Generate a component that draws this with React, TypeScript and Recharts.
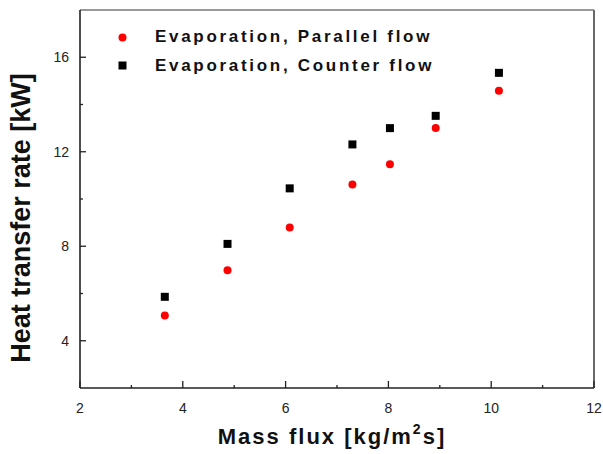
import React from 'react';
import { ScatterChart, Scatter, XAxis, YAxis, ReferenceLine, Legend, Label } from 'recharts';

// values
const massFlux = [3.65, 4.87, 6.08, 7.3, 8.03, 8.92, 10.15];
const parallelFlow = [5.07, 6.98, 8.79, 10.61, 11.47, 13.01, 14.58];
const counterFlow = [5.86, 8.1, 10.45, 12.31, 13.0, 13.52, 15.34];

const xTicks = [2, 3, 4, 5, 6, 7, 8, 9, 10, 11, 12];
const yTicks = [4, 6, 8, 10, 12, 14, 16];

const parallelData = massFlux.map((x, i) => ({ x, y: parallelFlow[i] }));
const counterData = massFlux.map((x, i) => ({ x, y: counterFlow[i] }));

const FONT = '"Liberation Sans", Arial, sans-serif';
const AXIS = '#222';

const RedDot = (p: any) => <circle cx={p.cx} cy={p.cy} r={4} fill="#ff0000" />;
const BlackSquare = (p: any) => (
  <rect x={p.cx - 4} y={p.cy - 4} width={8} height={8} fill="#000" />
);

const XTick = ({ x, y, payload }: any) => {
  const major = payload.value % 2 === 0;
  return (
    <g>
      <line x1={x} x2={x} y1={y} y2={y - (major ? 7 : 3)} stroke={AXIS} strokeWidth={1.3} />
      {major && (
        <text x={x} y={y + 25} textAnchor="middle" fontSize={14} fontFamily={FONT} fill="#222">
          {payload.value}
        </text>
      )}
    </g>
  );
};

const YTick = ({ x, y, payload }: any) => {
  const major = payload.value % 4 === 0;
  return (
    <g>
      <line x1={x} x2={x + (major ? 6 : 3)} y1={y} y2={y} stroke={AXIS} strokeWidth={1.3} />
      {major && (
        <text x={x - 11} y={y + 5} textAnchor="end" fontSize={14} fontFamily={FONT} fill="#222">
          {payload.value}
        </text>
      )}
    </g>
  );
};

const series = [
  { name: 'Evaporation, Parallel flow', color: '#ff0000', round: true },
  { name: 'Evaporation, Counter flow', color: '#000', round: false }
];

const renderLegend = () => (
  <div style={{ position: 'relative', width: 603, height: 90 }}>
    {series.map((s, i) => (
      <div
        key={s.name}
        style={{
          position: 'absolute',
          left: 118,
          top: 28 + i * 28.5,
          height: 18,
          display: 'flex',
          alignItems: 'center'
        }}
      >
        <svg width={9} height={9}>
          {s.round ? (
            <circle cx={4.5} cy={4.5} r={4} fill={s.color} />
          ) : (
            <rect x={0.5} y={0.5} width={8} height={8} fill={s.color} />
          )}
        </svg>
        <span
          style={{
            marginLeft: 28,
            fontFamily: FONT,
            fontWeight: 'bold',
            fontSize: 17,
            letterSpacing: 2.7,
            color: '#111',
            whiteSpace: 'nowrap'
          }}
        >
          {s.name}
        </span>
      </div>
    ))}
  </div>
);

export default function App() {
  return (
    <div style={{ position: 'absolute', left: 0, top: 0, background: '#fff' }}>
      <ScatterChart width={603} height={454} margin={{ top: 10, right: 9, bottom: 0, left: 0 }}>
        <XAxis
          type="number"
          dataKey="x"
          domain={[2, 12]}
          ticks={xTicks}
          interval={0}
          height={66}
          tickSize={0}
          tickMargin={0}
          tickLine={false}
          tick={<XTick />}
          axisLine={{ stroke: AXIS, strokeWidth: 1.6 }}
        >
          <Label
            content={({ viewBox }: any) => (
              <text
                x={viewBox.x + viewBox.width / 2 - 5}
                y={viewBox.y + 56}
                textAnchor="middle"
                fontFamily={FONT}
                fontWeight="bold"
                fontSize={22}
                letterSpacing={2}
                fill="#111"
              >
                Mass flux  [kg/m
                <tspan fontSize={14} dy={-10}>2</tspan>
                <tspan dy={10}>s]</tspan>
              </text>
            )}
          />
        </XAxis>
        <YAxis
          type="number"
          dataKey="y"
          domain={[2, 18]}
          ticks={yTicks}
          interval={0}
          width={80}
          tickSize={0}
          tickMargin={0}
          tickLine={false}
          tick={<YTick />}
          axisLine={{ stroke: AXIS, strokeWidth: 1.6 }}
        >
          <Label
            content={({ viewBox }: any) => {
              const cx = 30;
              const cy = viewBox.y + viewBox.height / 2 + 19;
              return (
                <text
                  x={cx}
                  y={cy}
                  transform={`rotate(-90 ${cx} ${cy})`}
                  textAnchor="middle"
                  fontFamily={FONT}
                  fontWeight="bold"
                  fontSize={27}
                  fill="#111"
                >
                  Heat transfer rate [kW]
                </text>
              );
            }}
          />
        </YAxis>
        <ReferenceLine x={12} stroke="#444" strokeWidth={1.6} />
        <ReferenceLine y={18} stroke="#777" strokeWidth={1.6} />
        <Legend
          layout="vertical"
          align="center"
          verticalAlign="middle"
          wrapperStyle={{ position: 'absolute', left: 0, top: 0, width: 603 }}
          content={renderLegend}
        />
        <Scatter
          name="Evaporation, Parallel flow"
          data={parallelData}
          shape={RedDot}
          isAnimationActive={false}
        />
        <Scatter
          name="Evaporation, Counter flow"
          data={counterData}
          shape={BlackSquare}
          isAnimationActive={false}
        />
      </ScatterChart>
    </div>
  );
}
